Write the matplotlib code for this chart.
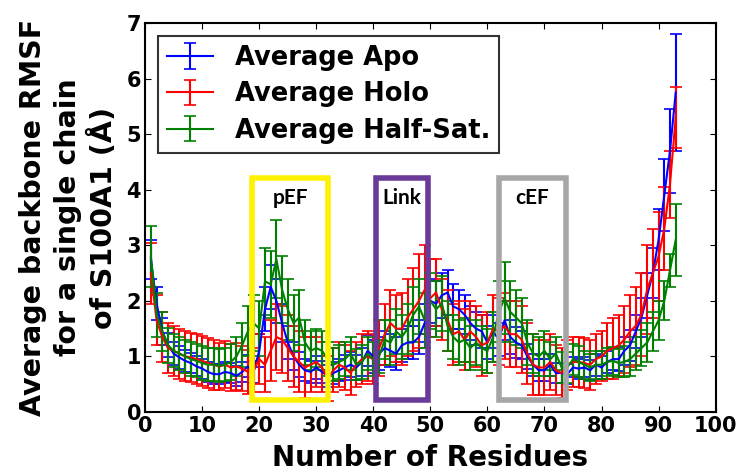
import matplotlib
matplotlib.use('Agg')
import matplotlib.pyplot as plt
import matplotlib.patches as patches
import numpy as np

# residue index
residues = np.arange(1, 94)

# Average Apo
apo_mean = [2.75, 1.95, 1.45, 1.20, 1.05, 0.98, 0.92, 0.88, 0.82, 0.78,
            0.72, 0.68, 0.68, 0.72, 0.70, 0.65, 0.72, 0.82, 0.72, 1.10,
            1.85, 2.25, 2.00, 1.60, 1.25, 1.00, 0.85, 0.75, 0.72, 0.80,
            0.72, 0.65, 0.70, 0.75, 0.80, 0.85, 0.80, 0.90, 1.10, 1.00,
            1.05, 1.15, 1.10, 1.05, 1.20, 1.25, 1.25, 1.35, 1.60, 2.00,
            1.95, 2.10, 2.15, 1.90, 1.85, 1.75, 1.60, 1.50, 1.45, 1.25,
            1.45, 1.30, 1.65, 1.35, 1.25, 1.20, 1.00, 0.85, 0.75, 0.75,
            0.85, 0.70, 0.70, 0.68, 0.80, 0.78, 0.80, 0.75, 0.85, 0.80,
            0.90, 0.95, 0.95, 1.10, 1.20, 1.45, 1.70, 2.10, 2.50, 3.10,
            3.90, 4.70, 5.75]
apo_err = [0.35, 0.30, 0.25, 0.22, 0.20, 0.20, 0.20, 0.18, 0.18, 0.18,
           0.18, 0.18, 0.18, 0.18, 0.18, 0.18, 0.18, 0.20, 0.20, 0.30,
           0.40, 0.40, 0.40, 0.35, 0.30, 0.25, 0.22, 0.20, 0.20, 0.20,
           0.20, 0.20, 0.20, 0.20, 0.22, 0.22, 0.22, 0.25, 0.28, 0.30,
           0.30, 0.30, 0.30, 0.30, 0.30, 0.30, 0.30, 0.30, 0.35, 0.40,
           0.40, 0.40, 0.40, 0.40, 0.35, 0.35, 0.30, 0.30, 0.30, 0.30,
           0.30, 0.30, 0.35, 0.30, 0.28, 0.25, 0.22, 0.20, 0.20, 0.20,
           0.20, 0.18, 0.18, 0.18, 0.18, 0.18, 0.18, 0.18, 0.20, 0.20,
           0.20, 0.20, 0.22, 0.25, 0.28, 0.30, 0.35, 0.40, 0.45, 0.55,
           0.65, 0.75, 1.05]

# Average Holo
holo_mean = [2.50, 1.65, 1.35, 1.15, 1.10, 1.05, 1.00, 0.98, 0.95, 0.92,
             0.88, 0.85, 0.82, 0.85, 0.80, 0.82, 0.78, 0.72, 0.75, 0.95,
             0.85, 1.10, 1.35, 1.30, 1.15, 1.00, 0.90, 0.80, 0.85, 0.90,
             0.80, 0.60, 0.75, 0.85, 0.80, 0.70, 0.85, 0.95, 1.00, 0.95,
             1.15, 1.40, 1.60, 1.50, 1.50, 1.70, 1.85, 2.00, 2.20, 2.05,
             2.15, 1.85, 1.65, 1.40, 1.45, 1.30, 1.45, 1.35, 1.20, 1.25,
             1.50, 1.45, 1.55, 1.40, 1.40, 1.30, 1.05, 0.85, 0.80, 0.80,
             0.90, 0.75, 0.70, 0.85, 0.90, 0.90, 0.88, 0.85, 0.95, 1.00,
             1.10, 1.15, 1.20, 1.30, 1.45, 1.55, 1.75, 2.20, 2.50, 2.80,
             3.30, 4.10, 5.30]
holo_err = [0.55, 0.45, 0.45, 0.45, 0.45, 0.45, 0.45, 0.45, 0.45, 0.45,
            0.45, 0.45, 0.42, 0.42, 0.42, 0.42, 0.40, 0.40, 0.40, 0.45,
            0.50, 0.55, 0.60, 0.60, 0.60, 0.55, 0.55, 0.55, 0.50, 0.45,
            0.45, 0.40, 0.40, 0.40, 0.40, 0.40, 0.40, 0.45, 0.45, 0.45,
            0.50, 0.55, 0.60, 0.60, 0.65, 0.70, 0.75, 0.85, 0.80, 0.70,
            0.60, 0.55, 0.55, 0.55, 0.55, 0.55, 0.55, 0.55, 0.55, 0.55,
            0.60, 0.60, 0.60, 0.60, 0.60, 0.60, 0.55, 0.55, 0.50, 0.50,
            0.50, 0.45, 0.45, 0.45, 0.45, 0.45, 0.45, 0.45, 0.45, 0.45,
            0.50, 0.55, 0.55, 0.60, 0.65, 0.70, 0.75, 0.80, 0.80, 0.80,
            0.75, 0.60, 0.55]

# Average Half-Sat.
half_mean = [2.80, 1.75, 1.45, 1.20, 1.10, 1.05, 1.00, 0.95, 0.92, 0.88,
             0.85, 0.85, 0.83, 0.85, 0.90, 1.00, 1.20, 1.45, 1.60, 1.50,
             2.35, 2.30, 2.75, 2.20, 1.85, 1.60, 1.70, 1.25, 1.10, 1.15,
             1.10, 0.95, 0.85, 0.90, 0.95, 1.05, 0.85, 0.90, 1.05, 0.95,
             1.00, 1.30, 1.25, 1.45, 1.35, 1.50, 1.75, 1.90, 1.65, 2.00,
             1.85, 1.95, 1.55, 1.35, 1.25, 1.30, 1.15, 1.25, 1.15, 1.10,
             1.35, 1.80, 2.05, 1.80, 1.70, 1.60, 1.25, 1.05, 1.00, 1.10,
             0.95, 1.05, 0.80, 0.80, 0.95, 0.90, 0.85, 0.80, 0.85, 0.85,
             0.90, 0.92, 0.88, 0.90, 0.95, 1.05, 1.15, 1.25, 1.45, 1.65,
             2.00, 2.55, 3.10]
half_err = [0.55, 0.40, 0.35, 0.32, 0.30, 0.30, 0.30, 0.30, 0.30, 0.30,
            0.30, 0.30, 0.30, 0.30, 0.32, 0.35, 0.40, 0.45, 0.50, 0.50,
            0.60, 0.60, 0.70, 0.60, 0.55, 0.50, 0.50, 0.40, 0.35, 0.35,
            0.35, 0.30, 0.30, 0.30, 0.30, 0.30, 0.28, 0.30, 0.30, 0.30,
            0.30, 0.35, 0.40, 0.40, 0.40, 0.45, 0.50, 0.50, 0.50, 0.50,
            0.50, 0.50, 0.45, 0.40, 0.40, 0.40, 0.40, 0.40, 0.40, 0.40,
            0.45, 0.55, 0.65, 0.55, 0.50, 0.45, 0.40, 0.35, 0.35, 0.35,
            0.30, 0.30, 0.28, 0.28, 0.28, 0.28, 0.25, 0.25, 0.25, 0.25,
            0.25, 0.25, 0.25, 0.28, 0.30, 0.30, 0.32, 0.35, 0.35, 0.35,
            0.35, 0.30, 0.65]

# highlighted regions: (label, start, end, colour)
regions = [('pEF', 18.8, 32.1, '#FFF200'),
           ('Link', 40.5, 49.5, '#6A3A98'),
           ('cEF', 62.1, 73.7, '#A6A6A6')]

plt.rcParams['font.family'] = 'DejaVu Sans'
plt.rcParams['font.weight'] = 'bold'

fig = plt.figure(figsize=(7.37, 4.74), dpi=100)
ax = fig.add_axes([0.197, 0.131, 0.774, 0.820])

ax.errorbar(residues, apo_mean, yerr=apo_err, color='b', lw=1.5,
            elinewidth=1.5, capsize=4.5, capthick=1.2, label='Average Apo')
ax.errorbar(residues, holo_mean, yerr=holo_err, color='r', lw=1.5,
            elinewidth=1.5, capsize=4.5, capthick=1.2, label='Average Holo')
ax.errorbar(residues, half_mean, yerr=half_err, color='g', lw=1.5,
            elinewidth=1.5, capsize=4.5, capthick=1.2, label='Average Half-Sat.')

for name, x0, x1, col in regions:
    rect = patches.Rectangle((x0, 0.22), x1 - x0, 4.0, fill=False,
                             edgecolor=col, lw=4, zorder=5)
    ax.add_patch(rect)
    ax.text((x0 + x1) / 2, 3.85, name, ha='center', va='center',
            fontsize=15, fontweight='bold', family='Lato', zorder=6)

ax.set_xlim(0, 100)
ax.set_ylim(0, 7)
ax.set_xticks(range(0, 101, 10))
ax.set_yticks(range(0, 8))
ax.tick_params(direction='in', top=True, right=True, length=4,
               labelsize=15, pad=3)
for lab in ax.get_xticklabels() + ax.get_yticklabels():
    lab.set_fontweight('bold')
for sp in ax.spines.values():
    sp.set_linewidth(1.5)

ax.set_xlabel('Number of Residues', fontsize=20, fontweight='bold', labelpad=6)
ax.set_ylabel('Average backbone RMSF\nfor a single chain\nof S100A1 (Å)',
              fontsize=20.5, fontweight='bold', linespacing=1.3, labelpad=6)

leg = ax.legend(loc='upper left', fontsize=18.5, frameon=True, fancybox=False,
                borderaxespad=0.5, handlelength=1.8, handletextpad=0.85,
                labelspacing=0.4, borderpad=0.35)
leg.get_frame().set_edgecolor('black')
leg.get_frame().set_linewidth(1.5)
for t in leg.get_texts():
    t.set_fontweight('bold')

fig.savefig('out.png', dpi=100)
